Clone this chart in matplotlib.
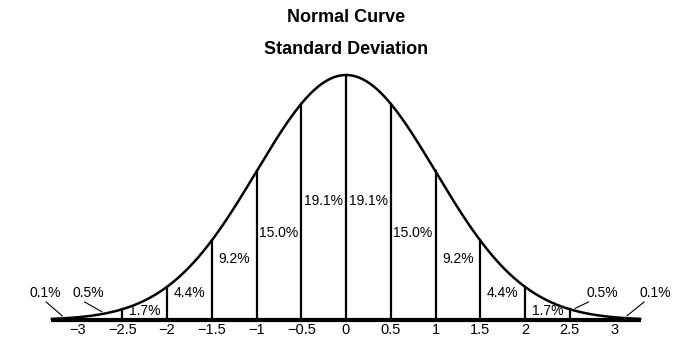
import numpy as np
import matplotlib.pyplot as plt

plt.rcParams['font.family'] = ['Liberation Sans', 'DejaVu Sans']

# standard deviation boundaries and the percentage in each half-sigma band
bounds = [-2.5, -2, -1.5, -1, -0.5, 0, 0.5, 1, 1.5, 2, 2.5]
tick_vals = [-3, -2.5, -2, -1.5, -1, -0.5, 0, 0.5, 1, 1.5, 2, 2.5, 3]
tick_labels = ['\u22123', '\u22122.5', '\u22122', '\u22121.5', '\u22121', '\u22120.5',
               '0', '0.5', '1', '1.5', '2', '2.5', '3']
band_mid = [-2.25, -1.75, -1.25, -0.75, -0.25, 0.25, 0.75, 1.25, 1.75, 2.25]
band_pct = ['1.7%', '4.4%', '9.2%', '15.0%', '19.1%', '19.1%', '15.0%', '9.2%', '4.4%', '1.7%']
# tail labels with a leader line to the curve
tail_pct = ['0.1%', '0.5%', '0.5%', '0.1%']
tail_text_x = [-3.36, -2.88, 2.86, 3.46]
tail_start_x = [-3.35, -2.92, 2.71, 3.33]
tail_point_x = [-3.17, -2.73, 2.56, 3.14]


def curve(x):
    return np.exp(-0.5 * np.asarray(x) ** 2)


fig = plt.figure(figsize=(6.98, 3.48), dpi=100)
ax = fig.add_axes([0, 0, 1, 1])
ax.set_xlim(-346 / 89.5, (698 - 346) / 89.5)
ax.set_ylim(-28 / 245, 320 / 245)
ax.axis('off')

xs = np.linspace(-3.3, 3.3, 600)
ax.plot(xs, curve(xs), color='black', lw=1.8, solid_capstyle='butt')
ax.plot([-3.3, 3.3], [0, 0], color='black', lw=3, solid_capstyle='butt')

for b in bounds:
    ax.plot([b, b], [0, curve(b)], color='black', lw=1.6)

# label heights in pixels above the baseline
label_px = {0.25: 119, 0.75: 87, 1.25: 61, 1.75: 27, 2.25: 9}
for m, p in zip(band_mid, band_pct):
    ax.text(m, label_px[abs(m)] / 245, p, ha='center', va='center', fontsize=10)

for p, tx, sx, px in zip(tail_pct, tail_text_x, tail_start_x, tail_point_x):
    ax.text(tx, 27 / 245, p, ha='center', va='center', fontsize=10)
    ax.plot([sx, px], [18 / 245, curve(px) + 0.01], color='black', lw=0.8)

for v, t in zip(tick_vals, tick_labels):
    ax.text(v, -10 / 245, t, ha='center', va='center', fontsize=10.5)

ax.text(0, 303 / 245, 'Normal Curve', ha='center', va='center', fontsize=13, fontweight='bold')
ax.text(0, 270 / 245, 'Standard Deviation', ha='center', va='center', fontsize=13, fontweight='bold')

fig.savefig('out.png', dpi=100)
